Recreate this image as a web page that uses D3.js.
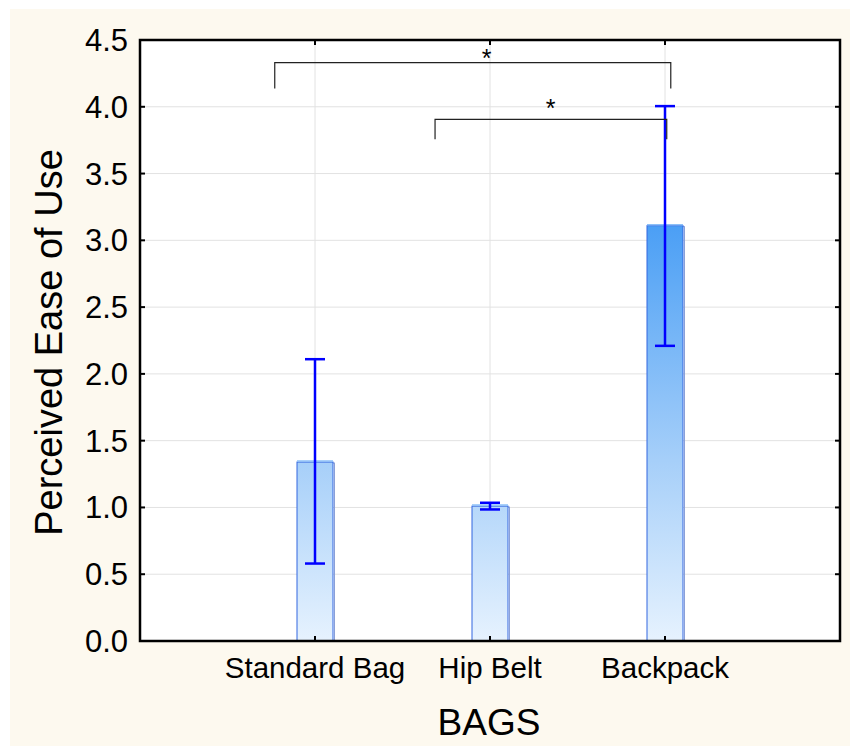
<!DOCTYPE html>
<html>
<head>
<meta charset="utf-8">
<script src="https://cdn.jsdelivr.net/npm/d3@7"></script>
<style>
  html, body { margin: 0; padding: 0; background: #ffffff; }
  svg { display: block; }
  text { font-family: "Liberation Sans", Arial, sans-serif; fill: #000; }
</style>
</head>
<body>
<svg id="chart" width="850" height="746"></svg>
<script>
// ---- data ----
const categories = ["Standard Bag", "Hip Belt", "Backpack"];
const means = [1.34, 1.01, 3.11];
const errLow = [0.58, 0.985, 2.21];
const errHigh = [2.11, 1.035, 4.005];
const yTicks = [0, 0.5, 1.0, 1.5, 2.0, 2.5, 3.0, 3.5, 4.0, 4.5];
// significance brackets (x in category-position units 0..4, y in value units)
const bracketX1 = [0.77, 1.686];
const bracketX2 = [3.033, 3.01];
const bracketTop = [4.33, 3.905];
const bracketBottom = [4.137, 3.757];
const bracketLabel = ["*", "*"];
const bracketLabelX = [1.98, 2.347];
const bracketLabelY = [4.4, 4.03];
const xTitle = "BAGS";
const yTitle = "Perceived Ease of Use";

// ---- layout ----
const svg = d3.select("#chart");
const L = 140, R = 840, T = 40, B = 641;

svg.append("rect").attr("x", 10).attr("y", 9).attr("width", 840).attr("height", 737)
  .attr("fill", "#fdf9ef");
svg.append("rect").attr("x", L).attr("y", T).attr("width", R - L).attr("height", B - T)
  .attr("fill", "#ffffff");

const x = d3.scalePoint().domain(categories).range([L, R]).padding(1);
const xLin = d3.scaleLinear().domain([0, 4]).range([L, R]);
const y = d3.scaleLinear().domain([0, 4.5]).range([B, T]);

// gradient for bars
const defs = svg.append("defs");
const grad = defs.append("linearGradient").attr("id", "barGrad")
  .attr("gradientUnits", "userSpaceOnUse")
  .attr("x1", 0).attr("x2", 0).attr("y1", y(0)).attr("y2", y(4.5));
grad.append("stop").attr("offset", 0).attr("stop-color", "#e6f2fe");
grad.append("stop").attr("offset", 0.3).attr("stop-color", "#a6cff9");
grad.append("stop").attr("offset", 0.69).attr("stop-color", "#4b9ff5");
grad.append("stop").attr("offset", 1).attr("stop-color", "#2a86f0");

// grid
svg.append("g").selectAll("line").data(yTicks.slice(1, -1)).join("line")
  .attr("x1", L).attr("x2", R).attr("y1", d => y(d)).attr("y2", d => y(d))
  .attr("stroke", "#e2e2e2").attr("stroke-width", 1);
svg.append("g").selectAll("line").data(categories).join("line")
  .attr("x1", d => x(d)).attr("x2", d => x(d)).attr("y1", T).attr("y2", B)
  .attr("stroke", "#e2e2e2").attr("stroke-width", 1);

// bars
const bw = 36;
const bars = svg.append("g");
bars.selectAll("rect.shadow").data(categories).join("rect")
  .attr("class", "shadow")
  .attr("x", d => x(d) - bw / 2 + 1.5).attr("y", (d, i) => y(means[i]) + 1)
  .attr("width", bw).attr("height", (d, i) => y(0) - y(means[i]) - 1)
  .attr("fill", "none").attr("stroke", "#8aa0d8").attr("stroke-width", 1);
bars.selectAll("rect.bar").data(categories).join("rect")
  .attr("class", "bar")
  .attr("x", d => x(d) - bw / 2).attr("y", (d, i) => y(means[i]))
  .attr("width", bw).attr("height", (d, i) => y(0) - y(means[i]))
  .attr("fill", "url(#barGrad)").attr("stroke", "#3366e0").attr("stroke-width", 1);
bars.selectAll("line.hl").data(categories).join("line")
  .attr("class", "hl")
  .attr("x1", d => x(d) - bw / 2).attr("x2", d => x(d) + bw / 2)
  .attr("y1", (d, i) => y(means[i]) - 1).attr("y2", (d, i) => y(means[i]) - 1)
  .attr("stroke", "#8cc0f8").attr("stroke-width", 1.5);

// error bars
const eb = svg.append("g").attr("stroke", "#0000ff").attr("stroke-width", 2.5);
eb.selectAll("line.v").data(categories).join("line")
  .attr("x1", d => x(d)).attr("x2", d => x(d))
  .attr("y1", (d, i) => y(errLow[i])).attr("y2", (d, i) => y(errHigh[i]));
eb.selectAll("line.lo").data(categories).join("line")
  .attr("x1", d => x(d) - 10).attr("x2", d => x(d) + 10)
  .attr("y1", (d, i) => y(errLow[i])).attr("y2", (d, i) => y(errLow[i]));
eb.selectAll("line.hi").data(categories).join("line")
  .attr("x1", d => x(d) - 10).attr("x2", d => x(d) + 10)
  .attr("y1", (d, i) => y(errHigh[i])).attr("y2", (d, i) => y(errHigh[i]));

// brackets
const br = svg.append("g");
bracketTop.forEach((t, i) => {
  const path = d3.path();
  path.moveTo(xLin(bracketX1[i]), y(bracketBottom[i]));
  path.lineTo(xLin(bracketX1[i]), y(t));
  path.lineTo(xLin(bracketX2[i]), y(t));
  path.lineTo(xLin(bracketX2[i]), y(bracketBottom[i]));
  br.append("path").attr("d", path.toString()).attr("fill", "none")
    .attr("stroke", "#222").attr("stroke-width", 1.2);
  br.append("text").attr("x", xLin(bracketLabelX[i])).attr("y", y(bracketLabelY[i]) + 14)
    .attr("text-anchor", "middle").style("font-size", "25px").text(bracketLabel[i]);
});

// axes ticks (inward) on all sides
const tk = svg.append("g").attr("stroke", "#000").attr("stroke-width", 2);
tk.selectAll("line.yl").data(yTicks).join("line")
  .attr("x1", L).attr("x2", L + 5).attr("y1", d => y(d)).attr("y2", d => y(d));
tk.selectAll("line.yr").data(yTicks).join("line")
  .attr("x1", R).attr("x2", R - 5).attr("y1", d => y(d)).attr("y2", d => y(d));
tk.selectAll("line.xb").data(categories).join("line")
  .attr("x1", d => x(d)).attr("x2", d => x(d)).attr("y1", B).attr("y2", B - 5);
tk.selectAll("line.xt").data(categories).join("line")
  .attr("x1", d => x(d)).attr("x2", d => x(d)).attr("y1", T).attr("y2", T + 5);

// frame
svg.append("rect").attr("x", L).attr("y", T).attr("width", R - L).attr("height", B - T)
  .attr("fill", "none").attr("stroke", "#000").attr("stroke-width", 2.5);

// tick labels
svg.append("g").selectAll("text").data(yTicks).join("text")
  .attr("x", 128).attr("y", d => y(d) + 11)
  .attr("text-anchor", "end").style("font-size", "31px")
  .text(d => d3.format(".1f")(d));
svg.append("g").selectAll("text").data(categories).join("text")
  .attr("x", d => x(d)).attr("y", 678)
  .attr("text-anchor", "middle").style("font-size", "29.5px")
  .text(d => d);

// titles
svg.append("text").attr("x", 489).attr("y", 735).attr("text-anchor", "middle")
  .style("font-size", "37px").text(xTitle);
svg.append("text").attr("transform", "translate(62,342.5) rotate(-90)")
  .attr("text-anchor", "middle").style("font-size", "38px").text(yTitle);
</script>
</body>
</html>
